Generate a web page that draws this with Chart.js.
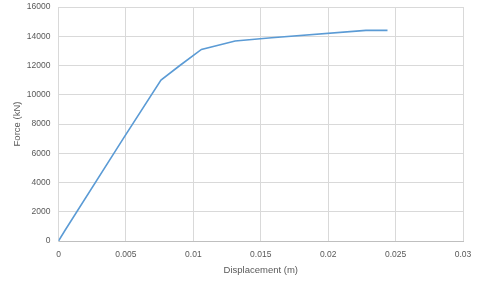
<!DOCTYPE html>
<html>
<head>
<meta charset="utf-8">
<script src="https://cdn.jsdelivr.net/npm/chart.js@4"></script>
<style>
html,body{margin:0;padding:0;background:#fff;}
#c{display:block;}
</style>
</head>
<body>
<canvas id="c" width="480" height="281"></canvas>
<script>
const displacement = [0, 0.0005, 0.0048, 0.0076, 0.009, 0.0106, 0.0131, 0.0158, 0.0228, 0.0244];
const force = [0, 750, 7000, 11000, 12000, 13100, 13680, 13900, 14400, 14400];
const xTitle = "Displacement (m)";
const yTitle = "Force (kN)";

const points = displacement.map((x, i) => ({x: x, y: force[i]}));
const tickFont = {family: "Liberation Sans", size: 8.5};
const titleFont = {family: "Liberation Sans", size: 9.5};
const textColor = "#595959";

new Chart(document.getElementById('c'), {
  type: 'scatter',
  data: {
    datasets: [{
      data: points,
      showLine: true,
      borderColor: '#5b9bd5',
      borderWidth: 1.6,
      pointRadius: 0,
      pointHoverRadius: 0,
      tension: 0,
      fill: false
    }]
  },
  options: {
    responsive: false,
    animation: false,
    devicePixelRatio: 1,
    layout: {autoPadding: false, padding: {top: 7, right: 17, bottom: 0, left: 0}},
    plugins: {legend: {display: false}, tooltip: {enabled: false}},
    scales: {
      x: {
        type: 'linear',
        min: 0, max: 0.03,
        ticks: {
          stepSize: 0.005,
          color: textColor,
          font: tickFont,
          padding: 0,
          maxRotation: 0,
          callback: v => String(Number(v.toFixed(4)))
        },
        grid: {color: '#d9d9d9', drawTicks: true, tickLength: 9, tickColor: 'rgba(0,0,0,0)', lineWidth: 1},
        border: {color: '#bfbfbf'},
        title: {display: true, text: xTitle, color: textColor, font: titleFont, padding: {top: 0, bottom: 5}},
        afterFit: s => { s.height = 40; }
      },
      y: {
        type: 'linear',
        min: 0, max: 16000,
        ticks: {
          stepSize: 2000,
          color: textColor,
          font: tickFont,
          padding: 0,
          callback: v => String(v)
        },
        grid: {color: '#d9d9d9', drawTicks: true, tickLength: 8, tickColor: 'rgba(0,0,0,0)', lineWidth: 1},
        border: {color: '#d9d9d9'},
        title: {display: true, text: yTitle, color: textColor, font: titleFont, padding: {top: 11.5, bottom: 0}},
        afterFit: s => { s.width = 58.5; }
      }
    }
  }
});
</script>
</body>
</html>
